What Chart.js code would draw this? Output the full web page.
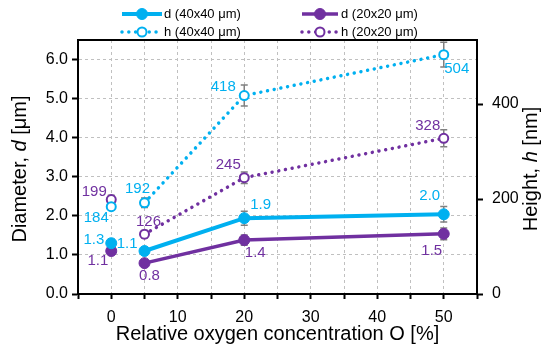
<!DOCTYPE html>
<html>
<head>
<meta charset="utf-8">
<script src="https://cdn.jsdelivr.net/npm/chart.js@4.4.1/dist/chart.umd.min.js"></script>
<style>
    html, body { margin: 0; padding: 0; background: #fff; }
    #wrap { width: 550px; height: 352px; }
</style>
</head>
<body>
<div id="wrap"><canvas id="chart" width="550" height="352"></canvas></div>
<script>
// --- data ---
const oxygen = [0, 5, 20, 50];
const d40 = [1.30, 1.10, 1.94, 2.04];
const d20 = [1.10, 0.79, 1.38, 1.54];
const h40 = [184, 192, 418, 504];
const h20 = [199, 126, 245, 328];
const d40Err = [0.10, 0.08, 0.18, 0.20];
const d20Err = [0.05, 0.05, 0.13, 0.15];
const h40Err = [6, 10, 22, 26];
const h20Err = [9, 8, 12, 18];
const xTickLabels = [0, 10, 20, 30, 40, 50];
const yTickLabels = [0, 1, 2, 3, 4, 5, 6];
const y2TickLabels = [0, 200, 400];

const CYAN = '#00B0F0';
const PURPLE = '#7030A0';
const FONT = '"Liberation Sans", Arial, sans-serif';
const DOTS = [0.01, 6.8];

const pts = vals => oxygen.map((x, i) => ({ x: x, y: vals[i] }));
// the 0 % point stands alone, no line to the 5 % point
const skipFirst = { borderColor: c => c.p0DataIndex === 0 ? 'rgba(0,0,0,0)' : undefined };

// Error bars, drawn under the markers
const errorBars = {
    id: 'errorBars',
    beforeDatasetsDraw(chart) {
        const ctx = chart.ctx;
        ctx.save();
        ctx.strokeStyle = '#808080';
        ctx.lineWidth = 1.5;
        chart.data.datasets.forEach(ds => {
            const ys = chart.scales[ds.yAxisID];
            ds.data.forEach((p, i) => {
                const x = chart.scales.x.getPixelForValue(p.x);
                const top = ys.getPixelForValue(p.y + ds.err[i]);
                const bot = ys.getPixelForValue(p.y - ds.err[i]);
                ctx.beginPath();
                ctx.moveTo(x, top); ctx.lineTo(x, bot);
                ctx.moveTo(x - 3.5, top); ctx.lineTo(x + 3.5, top);
                ctx.moveTo(x - 3.5, bot); ctx.lineTo(x + 3.5, bot);
                ctx.stroke();
            });
        });
        ctx.restore();
    }
};

// Value labels next to each point
const valueLabels = {
    id: 'valueLabels',
    afterDatasetsDraw(chart) {
        const ctx = chart.ctx;
        ctx.save();
        ctx.font = '15px ' + FONT;
        ctx.textBaseline = 'middle';
        chart.data.datasets.forEach((ds, di) => {
            const meta = chart.getDatasetMeta(di);
            ctx.fillStyle = ds.borderColor;
            meta.data.forEach((el, i) => {
                const [dx, dy, align] = ds.labelPos[i];
                ctx.textAlign = align;
                ctx.fillText(ds.labelFmt(ds.data[i].y), el.x + dx, el.y + dy);
            });
        });
        ctx.restore();
    }
};

// Frame, axis titles and legend
const decorations = {
    id: 'decorations',
    afterDraw(chart) {
        const ctx = chart.ctx;
        const a = chart.chartArea;
        ctx.save();
        ctx.strokeStyle = '#000';
        ctx.lineWidth = 2;
        ctx.strokeRect(a.left, a.top, a.right - a.left, a.bottom - a.top);

        // axis titles, with italic symbol
        const drawParts = (parts, cx, cy, rot, size) => {
            ctx.save();
            ctx.translate(cx, cy);
            ctx.rotate(rot);
            ctx.fillStyle = '#000';
            ctx.textBaseline = 'middle';
            ctx.textAlign = 'left';
            let w = 0;
            parts.forEach(p => { ctx.font = p[1] + size + 'px ' + FONT; w += ctx.measureText(p[0]).width; });
            let x = -w / 2;
            parts.forEach(p => {
                ctx.font = p[1] + size + 'px ' + FONT;
                ctx.fillText(p[0], x, 0);
                x += ctx.measureText(p[0]).width;
            });
            ctx.restore();
        };
        drawParts([['Relative oxygen concentration O [%]', '']], (a.left + a.right) / 2, 334, 0, 20);
        drawParts([['Diameter, ', ''], ['d', 'italic '], [' [\u03bcm]', '']], 20, (a.top + a.bottom) / 2 + 2, -Math.PI / 2, 20);
        drawParts([['Height, ', ''], ['h', 'italic '], [' [nm]', '']], 531, (a.top + a.bottom) / 2 + 2, -Math.PI / 2, 20);

        // legend
        ctx.font = '13px ' + FONT;
        ctx.textBaseline = 'middle';
        ctx.textAlign = 'left';
        chart.data.datasets.forEach(ds => {
            const [x0, x1, y, tx] = ds.legendPos;
            ctx.strokeStyle = ds.borderColor;
            ctx.lineWidth = ds.borderWidth;
            ctx.setLineDash(ds.borderDash || []);
            ctx.lineCap = ds.borderDash ? 'round' : 'butt';
            ctx.beginPath(); ctx.moveTo(x0, y); ctx.lineTo(x1, y); ctx.stroke();
            ctx.setLineDash([]);
            ctx.beginPath();
            ctx.arc((x0 + x1) / 2, y, ds.pointRadius, 0, Math.PI * 2);
            ctx.fillStyle = ds.pointBackgroundColor;
            ctx.fill();
            ctx.lineWidth = ds.pointBorderWidth;
            ctx.strokeStyle = ds.borderColor;
            ctx.stroke();
            ctx.fillStyle = '#000';
            ctx.fillText(ds.label, tx, y);
        });
        ctx.restore();
    }
};

const dFmt = v => v.toFixed(1);
const hFmt = v => String(Math.round(v));

new Chart(document.getElementById('chart'), {
    type: 'line',
    data: {
        datasets: [
            {
                label: 'h (40x40 \u03bcm)', data: pts(h40), err: h40Err, yAxisID: 'y2',
                borderColor: CYAN, borderWidth: 3.5, borderDash: DOTS, borderCapStyle: 'round',
                pointRadius: 4.5, pointBorderWidth: 2, pointBackgroundColor: '#fff', pointBorderColor: CYAN,
                segment: skipFirst, labelFmt: hFmt,
                labelPos: [[-15, 11, 'center'], [-7, -14, 'center'], [-21, -9, 'center'], [13, 14, 'center']],
                legendPos: [122, 162, 32, 164]
            },
            {
                label: 'h (20x20 \u03bcm)', data: pts(h20), err: h20Err, yAxisID: 'y2',
                borderColor: PURPLE, borderWidth: 3.5, borderDash: DOTS, borderCapStyle: 'round',
                pointRadius: 4.5, pointBorderWidth: 2, pointBackgroundColor: '#fff', pointBorderColor: PURPLE,
                segment: skipFirst, labelFmt: hFmt,
                labelPos: [[-17, -8, 'center'], [4, -12, 'center'], [-16, -13, 'center'], [-16, -12, 'center']],
                legendPos: [302, 338, 32, 341]
            },
            {
                label: 'd (40x40 \u03bcm)', data: pts(d40), err: d40Err, yAxisID: 'y',
                borderColor: CYAN, borderWidth: 4,
                pointRadius: 5.5, pointBorderWidth: 1, pointBackgroundColor: CYAN, pointBorderColor: CYAN,
                segment: skipFirst, labelFmt: dFmt,
                labelPos: [[-7, -3, 'right'], [-7, -7, 'right'], [6, -13, 'left'], [-14, -18, 'center']],
                legendPos: [122, 162, 14, 164]
            },
            {
                label: 'd (20x20 \u03bcm)', data: pts(d20), err: d20Err, yAxisID: 'y',
                borderColor: PURPLE, borderWidth: 3.5,
                pointRadius: 5.5, pointBorderWidth: 1, pointBackgroundColor: PURPLE, pointBorderColor: PURPLE,
                segment: skipFirst, labelFmt: dFmt,
                labelPos: [[-3, 10, 'right'], [5, 13, 'center'], [11, 13, 'center'], [-12, 17, 'center']],
                legendPos: [302, 338, 14, 341]
            }
        ]
    },
    options: {
        responsive: false,
        animation: false,
        layout: { padding: { top: 40, left: 0, right: 0, bottom: 0 } },
        plugins: { legend: { display: false }, tooltip: { enabled: false } },
        scales: {
            x: {
                type: 'linear', min: -5, max: 55,
                afterFit: s => { s.height = 58; },
                ticks: {
                    stepSize: 5, padding: 9, color: '#000',
                    font: { family: FONT, size: 16 },
                    maxRotation: 0, autoSkip: false,
                    callback: v => xTickLabels.includes(v) ? String(v) : ''
                },
                grid: {
                    color: c => (c.tick && (c.tick.value === -5 || c.tick.value === 55)) ? 'rgba(0,0,0,0)' : '#c0c0c0',
                    lineWidth: 1, tickColor: '#000', tickLength: 5, tickWidth: 2
                },
                border: { color: '#000', width: 2, dash: [3, 3] }
            },
            y: {
                position: 'left', min: 0, max: 6.5,
                afterFit: s => { s.width = 78; },
                ticks: {
                    stepSize: 0.5, padding: 4, color: '#000',
                    font: { family: FONT, size: 16 },
                    callback: v => yTickLabels.includes(v) ? v.toFixed(1) : ''
                },
                grid: {
                    color: c => (c.tick && yTickLabels.includes(c.tick.value) && c.tick.value > 0) ? '#c0c0c0' : 'rgba(0,0,0,0)',
                    lineWidth: 1, tickColor: '#000', tickLength: 6, tickWidth: 2
                },
                border: { color: '#000', width: 2, dash: [3, 3] }
            },
            y2: {
                position: 'right', min: 0, max: 535,
                afterFit: s => { s.width = 73; },
                afterBuildTicks: s => { s.ticks = y2TickLabels.map(v => ({ value: v })); },
                ticks: {
                    padding: 9, color: '#000',
                    font: { family: FONT, size: 16 },
                    callback: v => String(v)
                },
                grid: { drawOnChartArea: false, tickColor: '#000', tickLength: 6, tickWidth: 2 },
                border: { color: '#000', width: 2 }
            }
        }
    },
    plugins: [errorBars, valueLabels, decorations]
});
</script>
</body>
</html>
